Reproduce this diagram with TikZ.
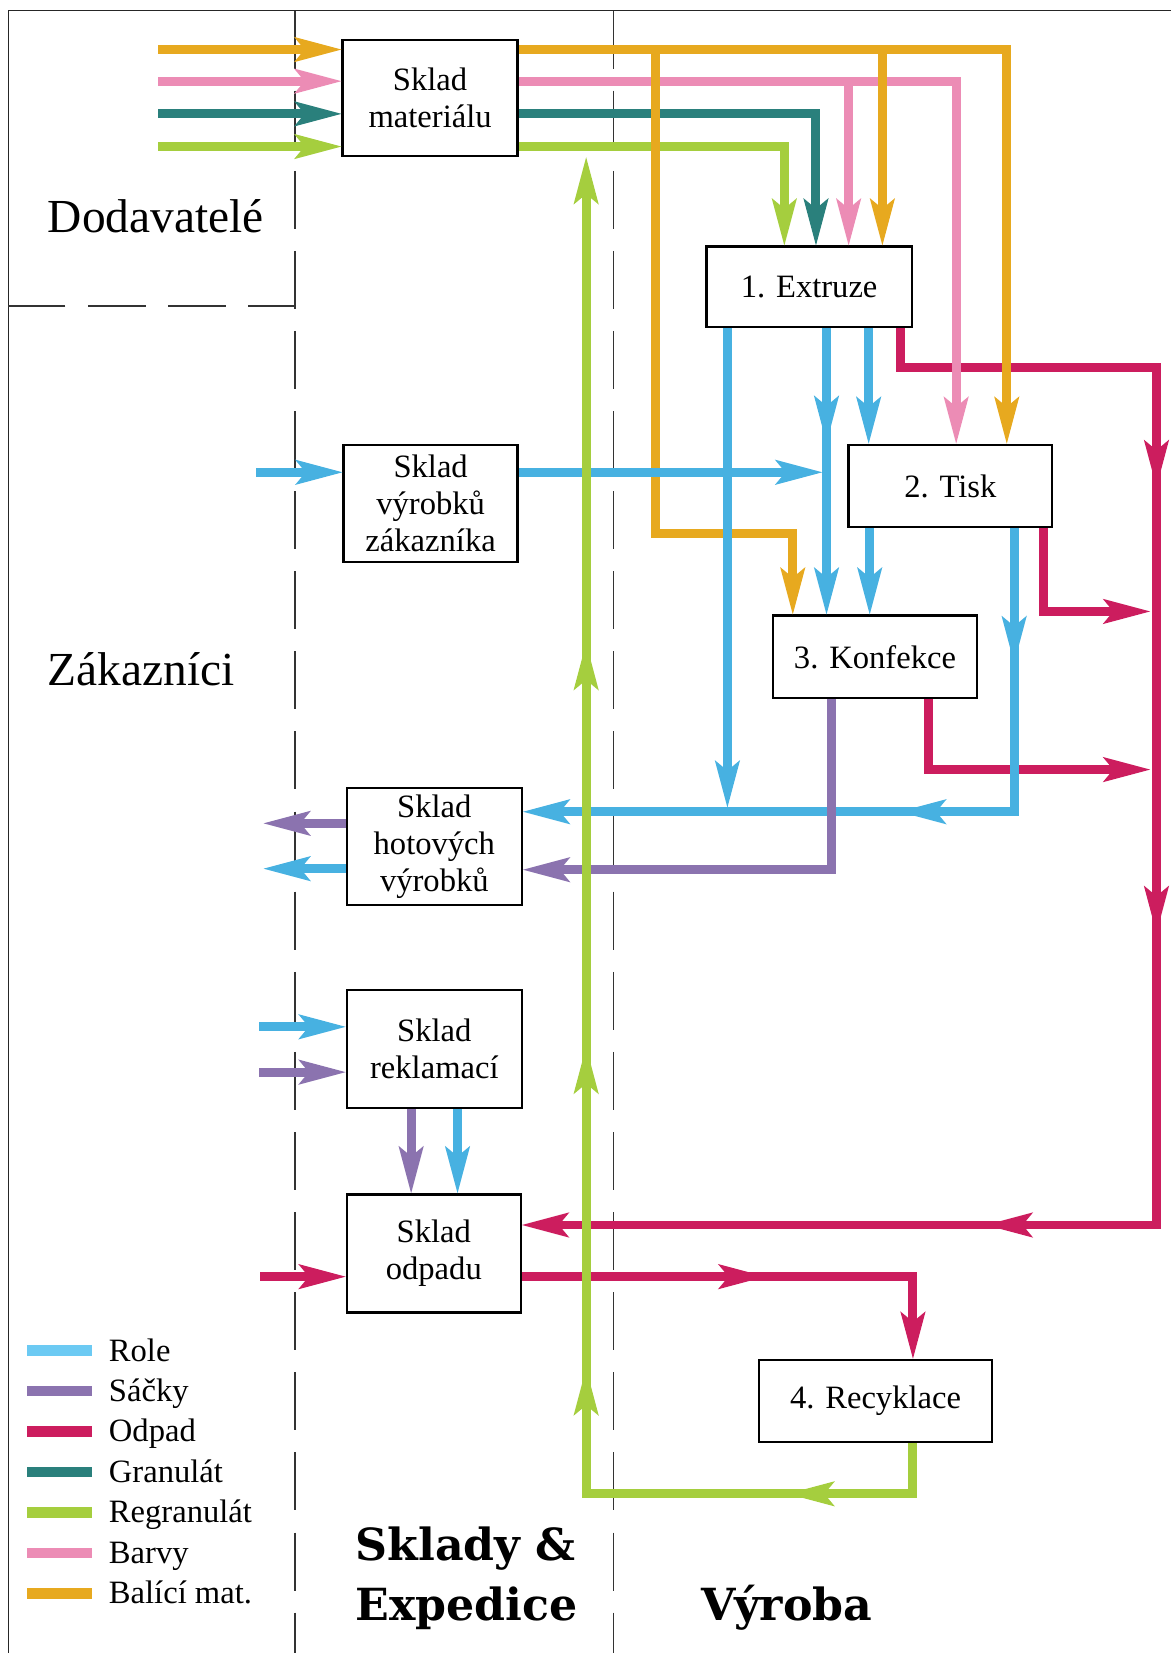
\documentclass[tikz,border=0pt]{standalone}
\usepackage{fontspec}
\setmainfont{Liberation Serif}
\newfontfamily\heavyfont{DejaVu Serif}
\usetikzlibrary{arrows.meta,calc}
\definecolor{cRole}{HTML}{47B1E1}
\definecolor{cRoleLeg}{HTML}{6CCAF3}
\definecolor{cSack}{HTML}{8B73AF}
\definecolor{cOdp}{HTML}{CC1D5E}
\definecolor{cGran}{HTML}{2A807C}
\definecolor{cRegr}{HTML}{A5CE3E}
\definecolor{cBar}{HTML}{EC8CB5}
\definecolor{cBal}{HTML}{E7A91F}
\begin{document}
\begin{tikzpicture}[x=0.02cm,y=-0.02cm,
  flow/.style={line width=0.17cm, line join=miter, line cap=butt},
  arr/.style={-{Stealth[length=0.9cm,width=0.48cm,inset=0.2cm,line width=0pt]}},
  box/.style={draw, line width=1.3pt, inner sep=0pt, align=center, fill=white,
    font=\fontsize{17.6pt}{19.8pt}\selectfont},
  sep/.style={line width=0.9pt, draw=black!80, dash pattern=on 1.1cm off 0.42cm},
  big/.style={font=\fontsize{25.6pt}{28pt}\selectfont, anchor=base west, inner sep=0pt},
  heavy/.style={font=\heavyfont\bfseries\fontsize{23.9pt}{26pt}\selectfont, anchor=base west, inner sep=0pt},
  legtext/.style={font=\fontsize{17.6pt}{19.8pt}\selectfont, anchor=base west, inner sep=0pt},
  legline/.style={line width=0.2cm}
]
\useasboundingbox (0,0) rectangle (1111,1568);
% frame and separators
\draw[line width=1pt, black!85] (8,1568) -- (8,10) -- (1111,10);
\draw[sep] (280,10) -- (280,1568);
\draw[sep] (582,10) -- (582,1568);
\draw[sep, dash phase=0.2cm] (280,290) -- (8,290);

% boxes
\node[box, minimum width=3.32cm, minimum height=2.2cm] (mat) at (408,93) {Sklad\\materiálu};
\node[box, minimum width=3.9cm, minimum height=1.52cm] (ext) at (767.5,272) {1. Extruze};
\node[box, minimum width=3.3cm, minimum height=2.22cm] (zak) at (408.5,477.5) {Sklad\\výrobků\\zákazníka};
\node[box, minimum width=3.86cm, minimum height=1.56cm] (tisk) at (901.5,461) {2. Tisk};
\node[box, minimum width=3.88cm, minimum height=1.56cm] (konf) at (830,623) {3. Konfekce};
\node[box, minimum width=3.32cm, minimum height=2.22cm] (hot) at (412,803) {Sklad\\hotových\\výrobků};
\node[box, minimum width=3.32cm, minimum height=2.24cm] (rekl) at (412,995) {Sklad\\reklamací};
\node[box, minimum width=3.3cm, minimum height=2.24cm] (odp) at (411.5,1189) {Sklad\\odpadu};
\node[box, minimum width=4.42cm, minimum height=1.56cm] (recy) at (830.5,1329) {4. Recyklace};

% labels
\node[big] (dod) at (45,221) {Dodavatelé};
\node[big] (zakl) at (45,650) {Zákazníci};
\node[heavy] (skl) at (337,1480) {Sklady \&};
\node[heavy] (expd) at (337,1537) {Expedice};
\node[heavy] (vyr) at (665,1537) {Výroba};

% free ends and mid-arrow points
\coordinate (inBal) at (150,47);
\coordinate (inBar) at (150,77);
\coordinate (inGra) at (150,108);
\coordinate (inReg) at (150,139);
\coordinate (inRoleZ) at (243,448);
\coordinate (bZakEnd) at (780,448);
\coordinate (bExtEnd) at (690,766);
\coordinate (bMid1) at (784,420);
\coordinate (bMid2) at (962,629);
\coordinate (bMid3) at (853,770);
\coordinate (bOutH) at (250,824);
\coordinate (bInR) at (246,974);
\coordinate (pOutH) at (250,781);
\coordinate (pInR) at (246,1017);
\coordinate (rMid1) at (1097,462);
\coordinate (rMid2) at (1097,885);
\coordinate (rMid3) at (935,1162);
\coordinate (rTiskEnd) at (1091,580);
\coordinate (rKonfEnd) at (1091,730);
\coordinate (rInO) at (247,1211);
\coordinate (rMid4) at (726,1211);
\coordinate (gMid1) at (747,1417);
\coordinate (gMid2) at (556,1298);
\coordinate (gMid3) at (556,993);
\coordinate (gMid4) at (556,610);

% Odpad (red)
\draw[flow,cOdp,arr] (ext.south -| 854,0) |- (1097,349) |- (odp.east |- rMid3);
\draw[flow,cOdp,arr] ($(rMid1)+(0,-30)$) -- (rMid1);
\draw[flow,cOdp,arr] ($(rMid2)+(0,-30)$) -- (rMid2);
\draw[flow,cOdp,arr] ($(rMid3)+(30,0)$) -- (rMid3);
\draw[flow,cOdp,arr] (tisk.south -| 990,0) |- (rTiskEnd);
\draw[flow,cOdp,arr] (konf.south -| 881,0) |- (rKonfEnd);
\draw[flow,cOdp,arr] (rInO) -- (odp.west |- rInO);
\draw[flow,cOdp,arr] (odp.east |- rInO) -| (recy.north -| 866,0);
\draw[flow,cOdp,arr] ($(rMid4)+(-30,0)$) -- (rMid4);

% Barvy (pink)
\draw[flow,cBar,arr] (inBar) -- (mat.west |- inBar);
\draw[flow,cBar,arr] (mat.east |- inBar) -| (tisk.north -| 907,0);
\draw[flow,cBar,arr] (805,77) -- (ext.north -| 805,0);

% Granulat (teal)
\draw[flow,cGran,arr] (inGra) -- (mat.west |- inGra);
\draw[flow,cGran,arr] (mat.east |- inGra) -| (ext.north -| 774,0);

% Regranulat supply (green)
\draw[flow,cRegr,arr] (inReg) -- (mat.west |- inReg);
\draw[flow,cRegr,arr] (mat.east |- inReg) -| (ext.north -| 744,0);

% Balici mat. (orange)
\draw[flow,cBal,arr] (inBal) -- (mat.west |- inBal);
\draw[flow,cBal,arr] (mat.east |- inBal) -| (tisk.north -| 955,0);
\draw[flow,cBal,arr] (837,47) -- (ext.north -| 837,0);
\draw[flow,cBal,arr] (622,47) |- (752,506) -- (konf.north -| 752,0);

% Role (blue)
\draw[flow,cRole,arr] (inRoleZ) -- (zak.west |- inRoleZ);
\draw[flow,cRole,arr] (zak.east |- inRoleZ) -- (bZakEnd);
\draw[flow,cRole,arr] (ext.south -| bExtEnd) -- (bExtEnd);
\draw[flow,cRole,arr] (ext.south -| bMid1) -- (konf.north -| bMid1);
\draw[flow,cRole,arr] ($(bMid1)+(0,-30)$) -- (bMid1);
\draw[flow,cRole,arr] (ext.south -| 824,0) -- (tisk.north -| 824,0);
\draw[flow,cRole,arr] (tisk.south -| 825,0) -- (konf.north -| 825,0);
\draw[flow,cRole,arr] (tisk.south -| bMid2) |- (hot.east |- bMid3);
\draw[flow,cRole,arr] ($(bMid2)+(0,-30)$) -- (bMid2);
\draw[flow,cRole,arr] ($(bMid3)+(30,0)$) -- (bMid3);
\draw[flow,cRole,arr] (hot.west |- bOutH) -- (bOutH);
\draw[flow,cRole,arr] (bInR) -- (rekl.west |- bInR);
\draw[flow,cRole,arr] (rekl.south -| 434,0) -- (odp.north -| 434,0);

% Sacky (purple)
\draw[flow,cSack,arr] (konf.south -| 789,0) |- (hot.east |- 0,825);
\draw[flow,cSack,arr] (hot.west |- pOutH) -- (pOutH);
\draw[flow,cSack,arr] (pInR) -- (rekl.west |- pInR);
\draw[flow,cSack,arr] (rekl.south -| 390,0) -- (odp.north -| 390,0);

% Regranulat loop (green)
\draw[flow,cRegr,arr] (recy.south -| 866,0) |- (gMid2 |- gMid1) -- (mat.south -| gMid4);
\draw[flow,cRegr,arr] ($(gMid1)+(30,0)$) -- (gMid1);
\draw[flow,cRegr,arr] ($(gMid2)+(0,30)$) -- (gMid2);
\draw[flow,cRegr,arr] ($(gMid3)+(0,30)$) -- (gMid3);
\draw[flow,cRegr,arr] ($(gMid4)+(0,30)$) -- (gMid4);

% legend
\foreach \c/\t [count=\i from 0] in {cRoleLeg/Role, cSack/Sáčky, cOdp/Odpad, cGran/Granulát, cRegr/Regranulát, cBar/Barvy, cBal/Balící mat.} {
  \draw[legline, \c] (26,{1281+38.4*\i}) -- (87,{1281+38.4*\i});
  \node[legtext] (leg\i) at (103,{1291+38.4*\i}) {\t};
}
\end{tikzpicture}
\end{document}
